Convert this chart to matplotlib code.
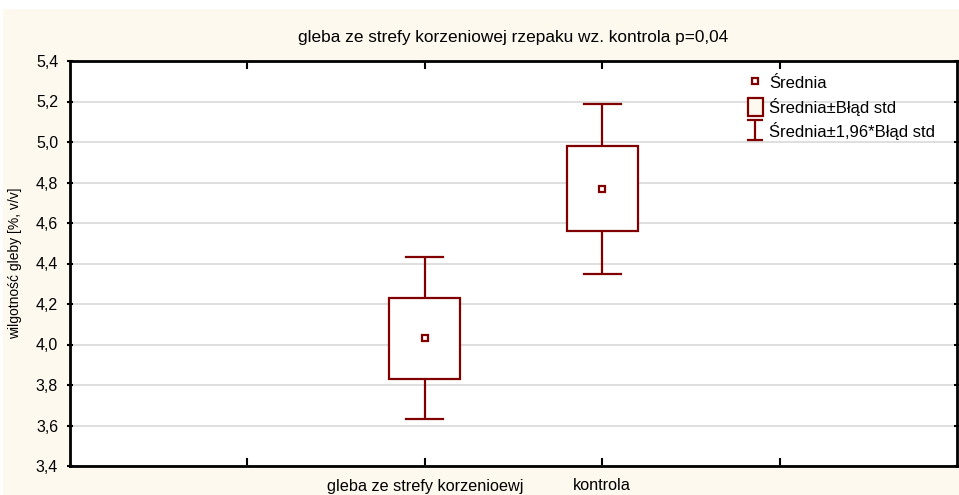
#!/usr/bin/env python3
"""Mean / SE / 1.96*SE box plot: soil moisture, rapeseed rhizosphere vs control."""

import matplotlib
matplotlib.use('Agg')
import matplotlib.pyplot as plt
from matplotlib.patches import Rectangle
from matplotlib.lines import Line2D
from matplotlib.container import ErrorbarContainer
from matplotlib.legend_handler import HandlerErrorbar

plt.rcParams.update({
    'font.family': ['Liberation Sans', 'DejaVu Sans'],
    'font.size': 10,
})

# data
groups = ['gleba ze strefy korzenioewj', 'kontrola']
means = [4.03, 4.77]
box_lo = [3.83, 4.56]     # mean - SE
box_hi = [4.23, 4.98]     # mean + SE
whisk_lo = [3.63, 4.35]   # mean - 1.96*SE
whisk_hi = [4.43, 5.19]   # mean + 1.96*SE
yticks = [3.4, 3.6, 3.8, 4.0, 4.2, 4.4, 4.6, 4.8, 5.0, 5.2, 5.4]

RED = '#800000'
CREAM = '#FEF9EF'

fig = plt.figure(figsize=(9.59, 4.95), dpi=100, facecolor='white')
# cream panel (a thin white strip remains at top/left like in the export)
fig.patches.append(Rectangle((3 / 959, 0), 1, 486 / 495, transform=fig.transFigure,
                             facecolor=CREAM, edgecolor='none', zorder=-10))

ax = fig.add_axes([70 / 959, 29 / 495, 887 / 959, 405 / 495])
ax.set_facecolor('white')

xpos = [2, 3]
box_w = 0.4
cap_w = 0.21

for x, m, bl, bh, wl, wh in zip(xpos, means, box_lo, box_hi, whisk_lo, whisk_hi):
    # whiskers
    ax.plot([x, x], [wl, wh], color=RED, lw=1.6, zorder=2, solid_capstyle='butt')
    ax.plot([x - cap_w / 2, x + cap_w / 2], [wl, wl], color=RED, lw=1.6, zorder=2)
    ax.plot([x - cap_w / 2, x + cap_w / 2], [wh, wh], color=RED, lw=1.6, zorder=2)
    # box
    ax.add_patch(Rectangle((x - box_w / 2, bl), box_w, bh - bl, facecolor='white',
                           edgecolor=RED, lw=1.6, zorder=3))

ax.plot(xpos, means, ls='none', marker='s', ms=5, mfc='white', mec=RED, mew=1.6, zorder=4)

ax.set_xlim(0, 5)
ax.set_ylim(3.4, 5.4)
ax.set_xticks([1, 2, 3, 4])
ax.set_xticklabels(['', groups[0], groups[1], ''], fontsize=11.7)
ax.set_yticks(yticks)
ax.set_yticklabels([f'{v:.1f}'.replace('.', ',') for v in yticks], fontsize=11.5)
ax.yaxis.grid(True, color='#D9D9D9', lw=1.2)
ax.set_axisbelow(True)

for s in ax.spines.values():
    s.set_linewidth(2)
    s.set_color('black')

ax.tick_params(axis='x', direction='in', length=6, width=1.5, top=True, pad=9)
ax.tick_params(axis='y', direction='inout', length=5, width=1.5, right=True, pad=6)

ax.set_ylabel('wilgotność gleby [%, v/v]', fontsize=10)
ax.yaxis.set_label_coords(-0.054, 0.5)
ax.set_title('gleba ze strefy korzeniowej rzepaku wz. kontrola p=0,04', fontsize=12.4, pad=14)

# legend
h_mean = Line2D([], [], ls='none', marker='s', ms=5, mfc='white', mec=RED, mew=1.6)
h_box = Rectangle((0, 0), 1, 1, facecolor=CREAM, edgecolor=RED, lw=1.6)
h_whisk = ax.errorbar([-1], [0], yerr=[[1], [1]], fmt='none', ecolor=RED,
                      elinewidth=1.6, capsize=5.5, capthick=1.6)
leg = ax.legend([h_mean, h_box, h_whisk],
                ['Średnia', 'Średnia±Błąd std', 'Średnia±1,96*Błąd std'],
                loc='upper left', bbox_to_anchor=(0.764, 0.968), frameon=False,
                borderpad=0, borderaxespad=0,
                fontsize=12, handlelength=0.9, handletextpad=0.4, labelspacing=0.37,
                handleheight=1.25,
                handler_map={ErrorbarContainer: HandlerErrorbar(xerr_size=0.6)})

fig.savefig('out.png', dpi=100, facecolor='white')
